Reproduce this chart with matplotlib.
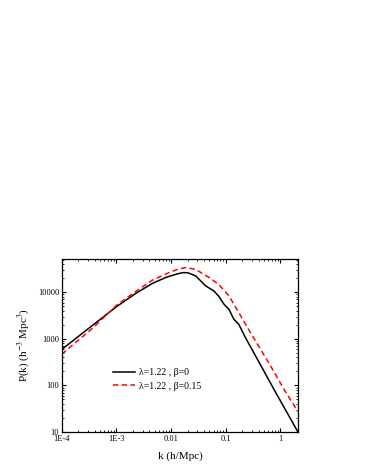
import matplotlib
matplotlib.use("Agg")
import matplotlib.pyplot as plt
from matplotlib.ticker import FixedLocator, LogLocator, NullFormatter

plt.rcParams['font.family'] = ['Liberation Serif', 'DejaVu Serif']
plt.rcParams['mathtext.fontset'] = 'stix'

# black curve: lambda=1.22, beta=0
k_black = [1.0e-4, 3.76e-4, 1.0e-3, 2.29e-3, 4.57e-3, 8.13e-3, 1.26e-2, 1.62e-2, 2.0e-2,
           2.82e-2, 4.27e-2, 6.03e-2, 7.41e-2, 9.33e-2, 0.115, 0.141, 0.174,
           0.229, 0.398, 0.794, 2.1]
p_black = [594, 2000, 4900, 9550, 15500, 20900, 24500, 26300, 26300,
           22400, 13800, 10700, 8300, 5500, 4270, 2630, 2040,
           1070, 331, 75.9, 10.0]

# red dashed curve: lambda=1.22, beta=0.15
k_red = [1.0e-4, 3.76e-4, 1.0e-3, 2.29e-3, 4.57e-3, 9.12e-3, 1.35e-2, 1.86e-2, 2.82e-2,
         4.9e-2, 7.41e-2, 0.115, 0.174, 0.263, 0.398, 0.692, 1.216, 2.1]
p_red = [468, 1740, 5250, 10500, 18200, 26300, 31300, 33900, 30900,
         20900, 14800, 8320, 3630, 1585, 708, 240, 75.9, 27.5]

xticks = [1e-4, 1e-3, 1e-2, 1e-1, 1]
xticklabels = ['1E-4', '1E-3', '0.01', '0.1', '1']
yticks = [10, 100, 1000, 10000]
yticklabels = ['10', '100', '1000', '10000']

fig = plt.figure(figsize=(3.66, 4.73), dpi=100)
ax = fig.add_axes([0.169, 0.0867, 0.645, 0.366])

ax.plot(k_black, p_black, color='black', lw=1.1, label='λ=1.22 , β=0')
ax.plot(k_red, p_red, color='red', lw=1.1, ls=(0, (3.5, 2.2)), label='λ=1.22 , β=0.15')

ax.set_xscale('log')
ax.set_yscale('log')
ax.set_xlim(1e-4, 2.1)
ax.set_ylim(10, 52000)

ax.xaxis.set_major_locator(FixedLocator(xticks))
ax.set_xticklabels(xticklabels)
ax.yaxis.set_major_locator(FixedLocator(yticks))
ax.set_yticklabels(yticklabels)
ax.xaxis.set_minor_locator(LogLocator(base=10, subs=range(2, 10), numticks=20))
ax.yaxis.set_minor_locator(LogLocator(base=10, subs=range(2, 10), numticks=20))
ax.xaxis.set_minor_formatter(NullFormatter())
ax.yaxis.set_minor_formatter(NullFormatter())

ax.tick_params(which='both', direction='in', top=True, right=True, labelsize=6)
ax.tick_params(axis='x', pad=2.5)
ax.tick_params(axis='y', pad=2)
ax.tick_params(which='major', length=3, width=0.8)
ax.tick_params(which='minor', length=1.6, width=0.6)
for s in ax.spines.values():
    s.set_linewidth(0.9)

ax.set_xlabel('k (h/Mpc)', fontsize=8, labelpad=5.5)
ax.set_ylabel('P(k) (h$^{-3}$ Mpc$^{3}$)', fontsize=8, labelpad=4)

ax.legend(loc='upper left', bbox_to_anchor=(0.2, 0.39), frameon=False, fontsize=7,
          handlelength=2.25, handletextpad=0.4, labelspacing=0.45, borderaxespad=0)

fig.savefig('out.png', dpi=100)
